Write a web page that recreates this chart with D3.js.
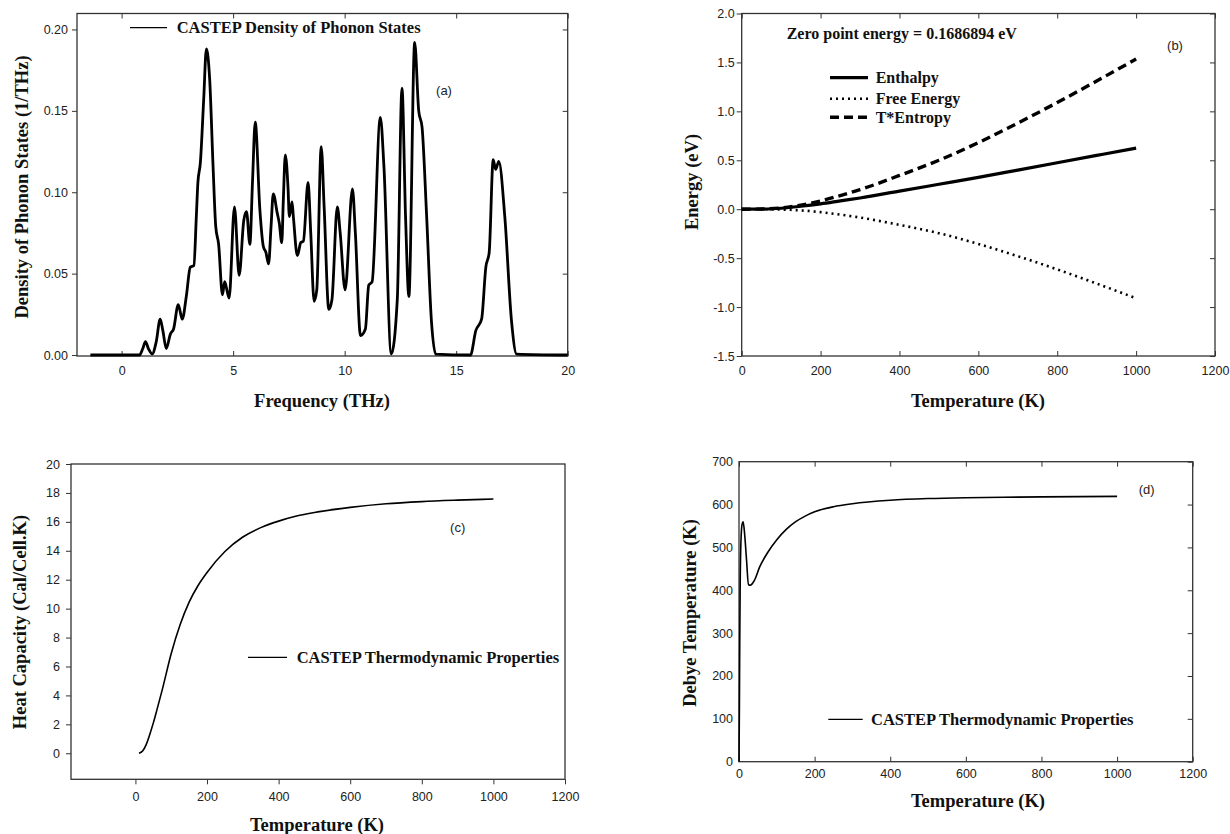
<!DOCTYPE html>
<html>
<head>
<meta charset="utf-8">
<script src="https://cdn.jsdelivr.net/npm/d3@7"></script>
<style>
  body { margin: 0; background: #fff; }
  svg { display: block; }
  .tick text { font-family: "Liberation Sans", Arial, sans-serif; font-size: 12.5px; fill: #222; }
  .title { font-family: "Liberation Serif", "Times New Roman", serif; font-weight: bold; font-size: 18.5px; fill: #111; }
  .leg { font-family: "Liberation Serif", "Times New Roman", serif; font-weight: bold; font-size: 16.5px; fill: #111; }
  .tag { font-family: "Liberation Sans", Arial, sans-serif; font-size: 13px; fill: #222; }
</style>
</head>
<body>
<svg width="1230" height="834"></svg>
<script>
// (a) phonon density of states
const dosFreq = [-1.4, 0.8, 0.95, 1.07, 1.2, 1.37, 1.55, 1.73, 1.85, 2.0, 2.19, 2.33, 2.54, 2.72, 2.9, 3.08, 3.24, 3.35, 3.42, 3.53, 3.68, 3.8, 3.95, 4.1, 4.22, 4.35, 4.52, 4.62, 4.82, 5.06, 5.27, 5.48, 5.6, 5.75, 5.87, 5.99, 6.2, 6.35, 6.47, 6.59, 6.7, 6.8, 6.98, 7.07, 7.18, 7.25, 7.34, 7.46, 7.52, 7.64, 7.7, 7.88, 8.03, 8.15, 8.36, 8.48, 8.63, 8.75, 8.95, 9.08, 9.29, 9.43, 9.67, 9.8, 10.02, 10.35, 10.48, 10.71, 10.93, 11.08, 11.23, 11.6, 11.76, 12.09, 12.36, 12.57, 12.73, 12.88, 13.14, 13.32, 13.47, 13.67, 13.89, 14.08, 15.64, 15.88, 16.14, 16.33, 16.48, 16.66, 16.77, 16.91, 17.18, 17.48, 17.71, 20];
const dosVal = [0, 0, 0.004, 0.0082, 0.004, 0.0006, 0.008, 0.022, 0.015, 0.004, 0.013, 0.016, 0.031, 0.022, 0.036, 0.054, 0.055, 0.085, 0.106, 0.118, 0.157, 0.188, 0.169, 0.116, 0.079, 0.068, 0.037, 0.045, 0.035, 0.091, 0.049, 0.083, 0.088, 0.068, 0.107, 0.143, 0.089, 0.067, 0.063, 0.056, 0.079, 0.099, 0.087, 0.081, 0.069, 0.095, 0.123, 0.103, 0.085, 0.094, 0.085, 0.061, 0.069, 0.070, 0.106, 0.075, 0.033, 0.040, 0.128, 0.091, 0.028, 0.034, 0.091, 0.075, 0.040, 0.102, 0.075, 0.012, 0.016, 0.043, 0.045, 0.146, 0.116, 0.0006, 0.034, 0.164, 0.085, 0.036, 0.192, 0.150, 0.140, 0.087, 0.021, 0.0006, 0, 0.015, 0.022, 0.054, 0.063, 0.120, 0.114, 0.119, 0.085, 0.021, 0.0006, 0];

// (b) thermodynamic energies
const energyT = [0, 50, 100, 150, 200, 250, 300, 400, 500, 600, 700, 800, 900, 1000];
const enthalpy = [0, 0.002, 0.01, 0.03, 0.055, 0.085, 0.115, 0.185, 0.255, 0.325, 0.40, 0.475, 0.55, 0.625];
const freeEnergy = [0, 0, -0.003, -0.012, -0.03, -0.055, -0.085, -0.16, -0.245, -0.355, -0.48, -0.615, -0.76, -0.91];
const tEntropy = [0, 0.002, 0.013, 0.042, 0.085, 0.14, 0.20, 0.345, 0.50, 0.68, 0.88, 1.09, 1.31, 1.535];

// (c) heat capacity
const cvT = [10, 20, 30, 40, 50, 60, 75, 100, 125, 150, 175, 200, 250, 300, 350, 400, 450, 500, 600, 700, 800, 900, 1000];
const cvVal = [0, 0.15, 0.6, 1.3, 2.1, 3.0, 4.4, 6.9, 8.9, 10.45, 11.6, 12.5, 13.95, 14.95, 15.6, 16.05, 16.4, 16.65, 17.0, 17.25, 17.4, 17.5, 17.58];

// (d) Debye temperature
const debyeT = [0, 1, 2, 3, 5, 8, 11, 15, 20, 25, 30, 40, 55, 75, 100, 125, 150, 175, 200, 250, 300, 400, 500, 600, 700, 800, 900, 1000];
const debyeVal = [0, 120, 280, 400, 510, 553, 560, 530, 470, 413, 412, 422, 455, 487, 518, 542, 560, 573, 583, 595, 602, 610, 614, 616, 617, 618, 618.5, 619];

const tempTicks = [0, 200, 400, 600, 800, 1000, 1200];

const svg = d3.select("svg");

// d3 writes a real minus sign; the figure uses a plain hyphen
const fmt = (spec) => (d) => d3.format(spec)(d).replace("\u2212", "-");

// draws box + ticks for one panel; returns scales
function panel(box, xDom, yDom, xTicks, yTicks, xFmt, yFmt, opt) {
  const x = d3.scaleLinear().domain(xDom).range([box.left, box.right]);
  const y = d3.scaleLinear().domain(yDom).range([box.bottom, box.top]);
  const g = svg.append("g");

  g.append("g")
    .attr("transform", `translate(0,${box.bottom})`)
    .call(d3.axisBottom(x).tickValues(xTicks).tickFormat(fmt(xFmt))
      .tickSizeInner(opt.bottomOut ? 5 : -5).tickSizeOuter(0).tickPadding(opt.xPad));
  g.append("g")
    .attr("transform", `translate(${box.left},0)`)
    .call(d3.axisLeft(y).tickValues(yTicks).tickFormat(fmt(yFmt))
      .tickSizeInner(opt.leftTicks ? 5 : 0).tickSizeOuter(0).tickPadding(opt.yPad));
  if (opt.mirror) {
    g.append("g").attr("transform", `translate(0,${box.top})`)
      .call(d3.axisTop(x).tickValues(xTicks).tickFormat("").tickSizeInner(-5).tickSizeOuter(0));
    g.append("g").attr("transform", `translate(${box.right},0)`)
      .call(d3.axisRight(y).tickValues(yTicks).tickFormat("").tickSizeInner(-5).tickSizeOuter(0));
  }
  g.selectAll(".domain").remove();
  g.selectAll(".tick line").attr("stroke", "#333");

  g.append("rect")
    .attr("x", box.left).attr("y", box.top)
    .attr("width", box.right - box.left).attr("height", box.bottom - box.top)
    .attr("fill", "none").attr("stroke", "#333").attr("stroke-width", 1.3);
  return { x, y, g };
}

function line(p, xs, ys) {
  return d3.line()
    .x((d, i) => p.x(xs[i]))
    .y((d) => p.y(d))
    .curve(d3.curveMonotoneX)(ys);
}

function yTitle(text, cx, cy) {
  svg.append("text").attr("class", "title")
    .attr("transform", `translate(${cx},${cy}) rotate(-90)`)
    .attr("text-anchor", "middle").attr("dy", "0.35em").text(text);
}
function xTitle(text, cx, cy) {
  svg.append("text").attr("class", "title")
    .attr("x", cx).attr("y", cy)
    .attr("text-anchor", "middle").attr("dy", "0.35em").text(text);
}
function legend(g, x1, x2, y, text, tx, style) {
  g.append("line").attr("x1", x1).attr("x2", x2).attr("y1", y).attr("y2", y)
    .attr("stroke", "#000").attr("stroke-width", style ? style.w : 1.2)
    .attr("stroke-dasharray", style ? style.dash : null);
  return g.append("text").attr("class", "leg").attr("x", tx).attr("y", y).attr("dy", "0.35em").text(text);
}
function tag(g, text, x, y) {
  g.append("text").attr("class", "tag").attr("x", x).attr("y", y)
    .attr("text-anchor", "middle").attr("dy", "0.35em").text(text);
}

// ---- (a)
const pa = panel({ left: 77, top: 13.5, right: 567.7, bottom: 356 },
  [-2, 20], [-0.0006, 0.2098], [0, 5, 10, 15, 20], [0, 0.05, 0.1, 0.15, 0.2], "d", ".2f",
  { mirror: true, leftTicks: true, bottomOut: false, xPad: 10, yPad: 4 });
pa.g.append("path")
  .attr("d", line(pa, dosFreq, dosVal))
  .attr("fill", "none").attr("stroke", "#000").attr("stroke-width", 2.8)
  .attr("stroke-linejoin", "round");
legend(pa.g, 130, 167, 27.7, "CASTEP Density of Phonon States", 176.7);
tag(pa.g, "(a)", 444, 90);
yTitle("Density of Phonon States (1/THz)", 22, 187);
xTitle("Frequency (THz)", 322, 401);

// ---- (b)
const pb = panel({ left: 741.7, top: 13.5, right: 1215, bottom: 356 },
  [0, 1200], [-1.5, 2.0], tempTicks, [-1.5, -1, -0.5, 0, 0.5, 1, 1.5, 2], "d", ".1f",
  { mirror: true, leftTicks: true, bottomOut: false, xPad: 10, yPad: 2 });
const series = [
  { vals: enthalpy, dash: null, w: 3.2, name: "Enthalpy" },
  { vals: freeEnergy, dash: "2,4", w: 2.6, name: "Free Energy" },
  { vals: tEntropy, dash: "9,5", w: 3.4, name: "T*Entropy" }
];
const legY = [77.7, 98.7, 117.3];
series.forEach((s, i) => {
  pb.g.append("path")
    .attr("d", line(pb, energyT, s.vals))
    .attr("fill", "none").attr("stroke", "#000").attr("stroke-width", s.w)
    .attr("stroke-dasharray", s.dash);
  legend(pb.g, 830, 868, legY[i], s.name, 875.7, s).style("font-size", "16px");
});
pb.g.append("text").attr("class", "leg").attr("x", 786.7).attr("y", 33).attr("dy", "0.35em")
  .style("font-size", "16px").text("Zero point energy = 0.1686894 eV");
tag(pb.g, "(b)", 1175, 45);
yTitle("Energy (eV)", 691.7, 182);
xTitle("Temperature (K)", 978, 401);

// ---- (c)
const pc = panel({ left: 71, top: 464, right: 565, bottom: 779.3 },
  [-180, 1200], [-1.8, 20], tempTicks, d3.range(0, 21, 2), "d", "d",
  { mirror: false, leftTicks: true, bottomOut: true, xPad: 8, yPad: 6 });
pc.g.append("path")
  .attr("d", line(pc, cvT, cvVal))
  .attr("fill", "none").attr("stroke", "#000").attr("stroke-width", 1.6);
legend(pc.g, 248, 287, 657.3, "CASTEP Thermodynamic Properties", 296.7);
tag(pc.g, "(c)", 457.7, 527.7);
yTitle("Heat Capacity (Cal/Cell.K)", 20, 622);
xTitle("Temperature (K)", 317, 825);

// ---- (d)
const pd = panel({ left: 739, top: 461.7, right: 1192.7, bottom: 761.7 },
  [0, 1200], [0, 700], tempTicks, d3.range(0, 701, 100), "d", "d",
  { mirror: true, leftTicks: false, bottomOut: false, xPad: 7, yPad: 6 });
pd.g.append("path")
  .attr("d", line(pd, debyeT, debyeVal))
  .attr("fill", "none").attr("stroke", "#000").attr("stroke-width", 1.6);
legend(pd.g, 828.3, 862.7, 719.3, "CASTEP Thermodynamic Properties", 871);
tag(pd.g, "(d)", 1146.7, 489.3);
yTitle("Debye Temperature (K)", 690, 613);
xTitle("Temperature (K)", 978, 801);
</script>
</body>
</html>
